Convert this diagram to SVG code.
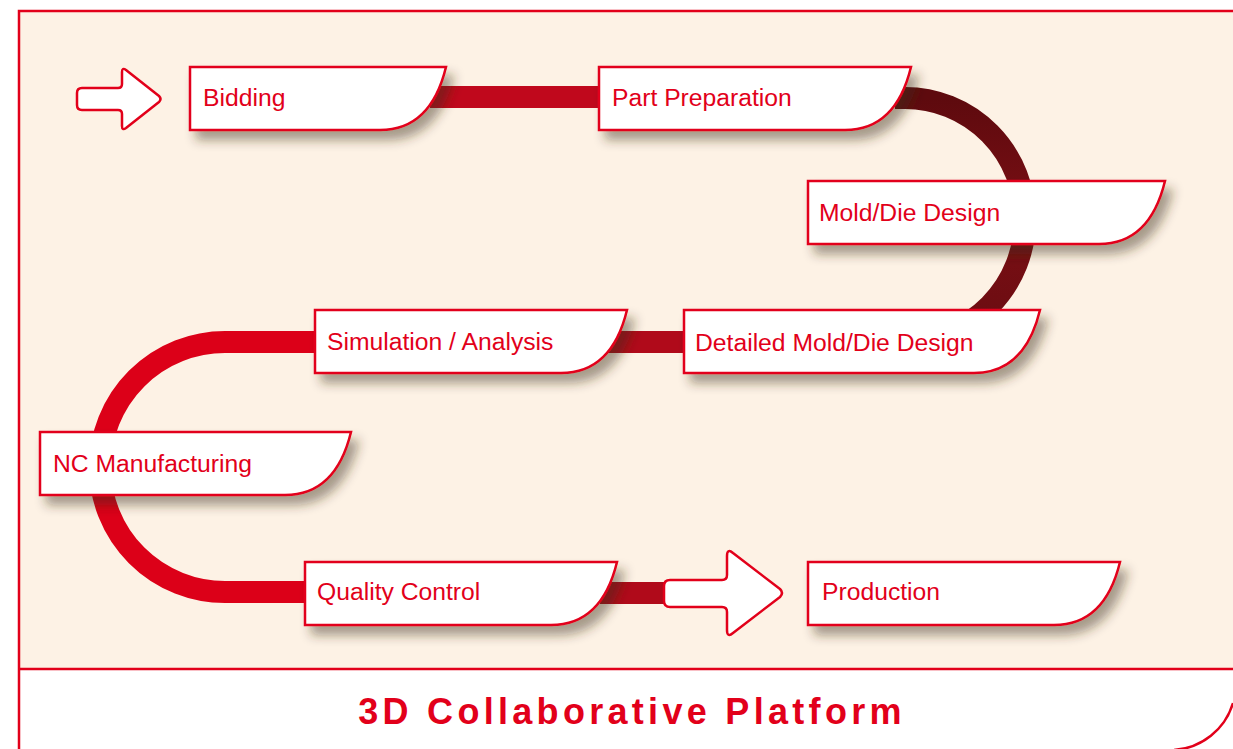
<svg xmlns="http://www.w3.org/2000/svg" width="1233" height="749" viewBox="0 0 1233 749">
<defs>
<style>
.box{fill:#ffffff;stroke:#e2001a;stroke-width:2.5;filter:url(#sh)}
.lbl{font-family:"Liberation Sans",Arial,sans-serif;font-size:24.7px;fill:#e2001a}
.arr{fill:#ffffff;stroke:#e2001a;stroke-width:2.5;stroke-linejoin:round}
.band{fill:none;stroke-width:22}
</style>
<filter id="sh" x="-10%" y="-20%" width="130%" height="160%">
<feDropShadow dx="7" dy="9" stdDeviation="5.5" flood-color="#3a2a1a" flood-opacity="0.45"/>
</filter>
<linearGradient id="gArc" x1="0" y1="0" x2="0" y2="1">
<stop offset="0" stop-color="#5e0a0e"/>
<stop offset="0.5" stop-color="#7a0f14"/>
<stop offset="1" stop-color="#6a0c11"/>
</linearGradient>
</defs>
<rect x="19" y="11" width="1214" height="658" fill="#fdf2e5"/>
<rect x="19" y="669" width="1214" height="80" fill="#ffffff"/>
<g id="frame" fill="none" stroke="#e2001a" stroke-width="2.5">
<path d="M19,749 V11 H1233"/>
<path d="M19,669 H1233"/>
<path d="M1233,703 A66,66 0 0 1 1174,750"/>
</g>
<g id="connectors">
<path class="band" stroke="#c0081c" d="M430,97 H606"/>
<path class="band" stroke="url(#gArc)" d="M895,98 H905 A120,121.5 0 0 1 905,341"/>
<path class="band" stroke="#b00a1a" d="M600,342 H700"/>
<path class="band" stroke="#dc0018" stroke-width="23" d="M330,342 H225 A125,125 0 0 0 225,592 H320"/>
<path class="band" stroke="#b00a1a" d="M600,593 H680"/>
</g>
<g id="start-arrow">
<path class="arr" d="M82,88 H118 Q122,88 122,84 V72 Q122,67 126,70 L159,96 Q162,99 159,102 L126,128 Q122,131 122,126 V114 Q122,110 118,110 H82 Q77,110 77,105 V93 Q77,88 82,88 Z"/>
</g>
<g id="end-arrow">
<path class="arr" d="M670,580 H722 Q727,580 727,575 V556 Q727,548 733,553 L780,589 Q784,593 780,597 L733,633 Q727,638 727,630 V612 Q727,607 722,607 H670 Q664,607 664,601 V586 Q664,580 670,580 Z"/>
</g>
<g id="bidding">
<path class="box" d="M190,67 H446 C438,100 420,130 380,130 H190 Z"/>
<text class="lbl" x="203" y="105.5">Bidding</text>
</g>
<g id="part-preparation">
<path class="box" d="M599,67 H911 C903,100 885,130 845,130 H599 Z"/>
<text class="lbl" x="612" y="105.5">Part Preparation</text>
</g>
<g id="mold-die-design">
<path class="box" d="M808,181 H1165 C1157,214 1139,244 1099,244 H808 Z"/>
<text class="lbl" x="819" y="220.5">Mold/Die Design</text>
</g>
<g id="detailed-mold-die-design">
<path class="box" d="M684,310 H1040 C1032,343 1014,373 974,373 H684 Z"/>
<text class="lbl" x="695" y="350.5">Detailed Mold/Die Design</text>
</g>
<g id="simulation-analysis">
<path class="box" d="M315,310 H627 C619,343 601,373 561,373 H315 Z"/>
<text class="lbl" x="327" y="349.5">Simulation / Analysis</text>
</g>
<g id="nc-manufacturing">
<path class="box" d="M40,432 H351 C343,465 325,495 285,495 H40 Z"/>
<text class="lbl" x="53" y="471.5">NC Manufacturing</text>
</g>
<g id="quality-control">
<path class="box" d="M305,562 H617 C609,595 591,625 551,625 H305 Z"/>
<text class="lbl" x="317" y="599.5">Quality Control</text>
</g>
<g id="production">
<path class="box" d="M808,562 H1120 C1112,595 1094,625 1054,625 H808 Z"/>
<text class="lbl" x="822" y="599.5">Production</text>
</g>
<text x="632" y="724" text-anchor="middle" font-family="Liberation Sans, Arial, sans-serif" font-size="36" font-weight="bold" letter-spacing="4.3" fill="#e2001a">3D Collaborative Platform</text>
</svg>
